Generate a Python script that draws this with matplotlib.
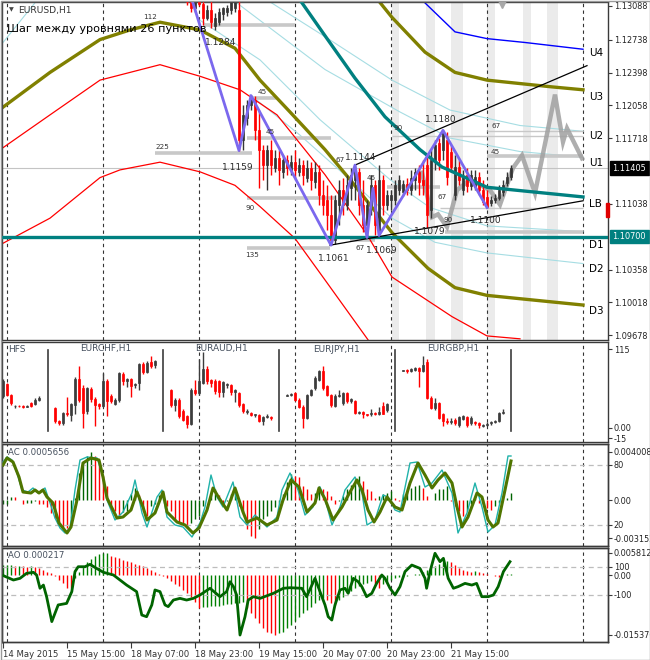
import numpy as np
import matplotlib
matplotlib.use("Agg")
import matplotlib.pyplot as plt
import matplotlib.transforms as mtrans
from matplotlib.patches import Rectangle

plt.rcParams['font.family'] = ['DejaVu Sans']

# ---------------- main EURUSD H1 candles (bar index from first_bar) ----------------
first_bar = 46
opens = [1.1331,1.1313,1.1307,1.1315,1.1311,1.1296,1.1305,1.1288,1.1292,1.1300,1.1303,1.1305,1.1307,1.1305,
         1.1170,1.1193,1.1206,1.1211,1.1180,1.1160,1.1144,1.1160,1.1141,1.1151,1.1137,1.1149,1.1139,1.1147,
         1.1137,1.1144,1.1131,1.1141,1.1126,1.1137,1.1113,1.1108,1.1092,1.1066,1.1103,1.1118,1.1103,1.1120,
         1.1129,1.1137,1.1103,1.1082,1.1103,1.1123,1.1075,1.1129,1.1103,1.1108,1.1108,1.1118,1.1116,1.1124,
         1.1118,1.1129,1.1137,1.1129,1.1144,1.1097,1.1149,1.1167,1.1160,1.1170,1.1158,1.1113,1.1142,1.1118,
         1.1134,1.1122,1.1121,1.1132,1.1118,1.1111,1.1105,1.1108,1.1110,1.1116,1.1125,1.1132]
highs = [1.1341,1.1320,1.1317,1.1323,1.1321,1.1310,1.1317,1.1302,1.1307,1.1308,1.1310,1.1317,1.1320,1.1315,
         1.1206,1.1211,1.1217,1.1216,1.1201,1.1165,1.1165,1.1170,1.1160,1.1160,1.1154,1.1154,1.1154,1.1160,
         1.1151,1.1149,1.1149,1.1147,1.1147,1.1144,1.1129,1.1123,1.1113,1.1113,1.1129,1.1131,1.1134,1.1141,
         1.1144,1.1141,1.1129,1.1108,1.1134,1.1129,1.1144,1.1134,1.1118,1.1118,1.1129,1.1134,1.1129,1.1131,
         1.1139,1.1141,1.1144,1.1149,1.1154,1.1160,1.1170,1.1172,1.1180,1.1178,1.1165,1.1154,1.1149,1.1139,
         1.1141,1.1139,1.1139,1.1137,1.1129,1.1118,1.1112,1.1114,1.1123,1.1129,1.1137,1.1144]
lows = [1.1310,1.1303,1.1303,1.1309,1.1289,1.1294,1.1286,1.1284,1.1289,1.1294,1.1298,1.1300,1.1303,1.1159,
        1.1160,1.1185,1.1201,1.1170,1.1120,1.1129,1.1118,1.1134,1.1137,1.1123,1.1131,1.1134,1.1134,1.1131,
        1.1133,1.1123,1.1126,1.1118,1.1120,1.1103,1.1092,1.1077,1.1061,1.1062,1.1082,1.1092,1.1097,1.1108,
        1.1108,1.1092,1.1075,1.1069,1.1092,1.1072,1.1071,1.1092,1.1097,1.1097,1.1103,1.1113,1.1112,1.1113,
        1.1113,1.1118,1.1113,1.1113,1.1079,1.1089,1.1139,1.1139,1.1149,1.1123,1.1137,1.1108,1.1123,1.1113,
        1.1116,1.1118,1.1118,1.1113,1.1103,1.1100,1.1102,1.1105,1.1108,1.1112,1.1122,1.1129]
closes = [1.1313,1.1307,1.1315,1.1311,1.1296,1.1305,1.1292,1.1296,1.1303,1.1307,1.1307,1.1315,1.1313,1.1170,
          1.1196,1.1206,1.1211,1.1180,1.1160,1.1144,1.1160,1.1144,1.1151,1.1139,1.1149,1.1141,1.1147,1.1139,
          1.1144,1.1134,1.1141,1.1129,1.1137,1.1113,1.1103,1.1092,1.1066,1.1108,1.1118,1.1103,1.1123,1.1134,
          1.1139,1.1103,1.1082,1.1103,1.1123,1.1082,1.1129,1.1103,1.1113,1.1113,1.1123,1.1129,1.1124,1.1118,
          1.1131,1.1137,1.1126,1.1123,1.1092,1.1149,1.1165,1.1149,1.1178,1.1132,1.1142,1.1142,1.1129,1.1132,
          1.1122,1.1134,1.1132,1.1118,1.1106,1.1101,1.1108,1.1110,1.1118,1.1123,1.1132,1.11405]

price_ticks = [1.13088, 1.12738, 1.12398, 1.12058, 1.11718, 1.11038, 1.10358, 1.10018, 1.09678]
bid_price = 1.11405
pivot_price = 1.10700
spread_hi, spread_lo = 1.1105, 1.1090
arrow_bar, arrow_price = 124.75, 1.1311

# zigzag
zz_bars = [46.5, 59, 62, 82, 88, 91, 92.5, 94, 110, 121]
zz_prices = [1.1325, 1.1159, 1.1216, 1.1061, 1.1144, 1.1069, 1.1120, 1.1071, 1.1180, 1.1100]
zz_labels = [(50.5, 1.1271, '1.1284'), (54.75, 1.1142, '1.1159'), (85.5, 1.1152, '1.1144'),
             (78.75, 1.1047, '1.1061'), (90.75, 1.1055, '1.1069'), (102.75, 1.1075, '1.1079'),
             (105.5, 1.1191, '1.1180'), (116.75, 1.1087, '1.1100')]

# gray projection
proj_bars = [104.75, 107.25, 108.75, 111, 113.5, 116.75, 121.75, 124.25, 127.5, 129.75, 133, 138, 140, 141, 144.75]
proj_prices = [1.1136, 1.1090, 1.1093, 1.1080, 1.1118, 1.1129, 1.1118, 1.1103, 1.1141, 1.1154, 1.1115,
               1.1217, 1.1168, 1.1182, 1.1151]

# channel lines
upper_trend = ([88, 146], [1.1144, 1.1247])
lower_trend = ([81.75, 145], [1.1061, 1.1107])

blue_bars = [103.75, 104.75, 113, 121, 130.5, 145]
blue_prices = [1.1323, 1.1315, 1.1282, 1.1275, 1.1271, 1.1264]
olive_up_bars = [91.75, 93.75, 97.25, 105.5, 113, 121, 137.25, 145]
olive_up_prices = [1.1325, 1.1315, 1.1297, 1.1261, 1.1240, 1.1232, 1.1225, 1.1222]
olive_dn_bars = [0, 11.75, 24.25, 31.75, 39.25, 49.25, 58, 64.25, 71.75, 80.5, 86.75, 97.25, 106.25, 113, 121, 145]
olive_dn_prices = [1.1204, 1.1240, 1.1274, 1.1284, 1.1292, 1.1284, 1.1265, 1.1232, 1.1199, 1.1160, 1.1129,
                   1.1074, 1.1037, 1.1017, 1.1009, 1.0999]
teal_bars = [72.5, 74.25, 80.5, 88, 95.5, 104.25, 109.75, 121, 145]
teal_prices = [1.1325, 1.1315, 1.1278, 1.1234, 1.1194, 1.1160, 1.1142, 1.1121, 1.1111]
red_up_bars = [0, 11.75, 24.25, 39.25, 49.25, 59.25, 68.5, 80.5, 91, 97.25, 112.25, 121, 129.25]
red_up_prices = [1.1162, 1.1196, 1.1232, 1.1248, 1.1236, 1.1222, 1.1196, 1.1134, 1.1072, 1.1028, 1.0987,
                 1.0967, 1.0964]
red_dn_bars = [0, 11.75, 24.25, 29.25, 39.25, 49.25, 58, 64.25, 73, 80.5, 91.25, 93]
red_dn_prices = [1.1063, 1.1089, 1.1131, 1.1139, 1.1147, 1.1137, 1.1123, 1.1101, 1.1068, 1.1025, 1.0963, 1.0952]
light_lines = [
    ([66, 80.5, 97.25, 111.75, 129.25, 145], [1.1315, 1.1277, 1.1232, 1.1201, 1.1185, 1.1179]),
    ([57.5, 80.5, 99.25, 111.75, 129.25, 145], [1.1315, 1.1243, 1.1199, 1.1172, 1.1158, 1.1152]),
    ([49.25, 64.25, 79.25, 96.75, 106.75, 121, 145], [1.1294, 1.1253, 1.1191, 1.1129, 1.1100, 1.1081, 1.1075]),
    ([61.75, 74.25, 86.75, 97.25, 108, 121, 145], [1.1217, 1.1175, 1.1129, 1.1089, 1.1064, 1.1053, 1.1042]),
    ([0, 10.5], [1.1271, 1.1325]),
]

fib_segments = [(50, 73, 1.1289, True), (62.5, 68.25, 1.1213, True), (61, 82, 1.1172, True),
                (38, 62.25, 1.1157, True), (61, 83, 1.1110, True), (61, 81.75, 1.1058, True),
                (86.75, 93, 1.1066, True), (96, 109.25, 1.1121, True), (97.25, 145, 1.1174, False),
                (121, 145, 1.1179, False), (121, 145, 1.1153, True), (109.25, 145, 1.1100, False),
                (110.5, 145, 1.1075, True)]
fib_labels = [(35, 1.1297, '112'), (63.75, 1.1220, '45'), (65.75, 1.1178, '45'), (38, 1.1163, '225'),
              (60.75, 1.1100, '90'), (60.5, 1.1051, '135'), (83, 1.1149, '67'), (91, 1.1131, '45'),
              (88, 1.1058, '67'), (97.5, 1.1182, '90'), (108.75, 1.1111, '67'), (110, 1.1087, '90'),
              (122, 1.1184, '67'), (122, 1.1158, '45')]
level_bar = 146.5
level_names = ['U4', 'U3', 'U2', 'U1', 'LB', 'D1', 'D2', 'D3']
level_prices = [1.1260, 1.1215, 1.1174, 1.1146, 1.1104, 1.1061, 1.1036, 1.0993]
bands = [(97.25, 99), (105.75, 108), (112, 115), (121, 123), (130, 132), (136, 138.75)]
grid_bars = [1, 25, 49, 73, 97, 121, 145]

# ---------------- HFS mini charts (O,H,L,C) ----------------
hfs_starts = [0, 13, 42, 71, 100]
hfs_sep = [11.25, 40, 69, 98, 127]
hfs_names = [(1.25, 'HFS'), (19.25, 'EURCHF,H1'), (48, 'EURAUD,H1'), (77.5, 'EURJPY,H1'), (106, 'EURGBP,H1')]
hfs_g1 = [(47,72,44,68),(64,66,46,48),(48,50,33,36),(31.5,34,29,32.5),(32.5,34,30,31.5),(32,33,29,31),
          (31,34,30,32.5),(36,38,30,32),(35,43,34,41),(41,47,40,44)]
hfs_chf = [(29,31,7,10),(10,12,5,7),(7,24,5,22),(22,45,18,20),(19,37,10,35),(33,74,20,71),(71,90,38,41),
           (58,62,0,22),(25,60,20,58),(57,60,38,42),(42,45,3,33),(35,37,28,32),(32,80,30,68),(68,71,17,39),
           (47,50,36,39),(35,43,33,41),(41,82,38,80),(79,81,62,68),(68,73,60,71),(71,73,45,61),(62,66,58,64),
           (65,95,55,93),(93,96,78,82),(82,97,80,95),(96,105,88,90),(92,99,88,97)]
hfs_aud = [(55,57,30,33),(33,43,25,41),(41,43,14,17),(25,27,10,12),(17,19,0,6),(6,58,4,55),(55,70,48,51),
           (51,100,48,68),(66,110,64,86),(86,90,64,68),(70,72,60,66),(68,72,50,54),(68,70,45,53),(53,69,45,67),
           (62,66,58,64),(62,64,48,53),(53,57,38,55),(51,53,30,33),(35,37,22,25),(24,27,21,25),(22,24,17,19),
           (19,21,16,20),(19,21,8,10),(10,18,5,16),(16,20,14,17),(16,18,12,14)]
hfs_jpy = [(47,49,46,48),(48,51,46,49),(51,53,39,41),(41,43,29,31),(31,33,0,15),(15,50,13,48),(48,57,46,55),
           (58,76,56,73),(70,85,68,83),(83,90,56,58),(61,63,46,48),(48,50,31,33),(32,49,30,47),(47,55,45,48),
           (36,53,34,51),(51,53,37,39),(39,44,37,42),(39,41,20,22),(22,25,20,23),(23,25,15,20),(20,21,17,19),
           (20,28,18,22),(22,23,19,21),(20,30,19,24),(32,38,20,21),(26,37,24,35)]
hfs_gbp = [(83.5,85,83,84.5),(84,86,80,83),(83,88,82,86),(84,89,83,87),(87,89,60,83),(83,105,81,92),
           (96,100,42,44),(44,46,27,29),(29,44,26,36),(36,38,13,15),(20,22,3,10),(10,14,6,8),(8,14,6,10),
           (12,15,5,7),(4,18,2,16),(13,19,11,17),(16,18,2,4),(7,17,5,15),(9,10,5,7),(7,8,0,4),(3,6,2,4),
           (4,8,3,6),(7,10,5,8),(8,12,7,10),(10,24,9,22),(22,28,20,24)]
hfs_groups = [hfs_g1, hfs_chf, hfs_aud, hfs_jpy, hfs_gbp]

# ---------------- AC (1e-5 units) + stochastic ----------------
ac_values = [-35,-30,28,22,0,-28,-25,-20,-5,-28,-33,-61,-108,-145,-186,-220,-228,-150,20,230,320,370,401,370,
             300,200,120,-40,-90,-130,-100,-90,50,105,40,-90,-130,-50,-35,40,60,-50,-90,-160,-190,-200,-230,
             -190,-160,-130,-50,0,60,90,40,-20,-5,50,90,-50,-100,-240,-300,-315,-240,-160,-130,-90,-60,-20,50,
             150,220,200,190,120,90,50,60,120,90,75,33,-36,-8,33,89,130,178,200,158,89,75,20,33,47,61,75,20,-8,
             47,75,103,117,130,103,33,5,61,89,94,117,-8,-50,-92,-133,-92,-36,20,-22,-36,-64,-78,-50,-22,5,20,57]
stoch_main = [(0,80),(1,87),(2.5,83),(4,68),(5,53),(7,52),(8,55),(9,52),(10,55),(11,48),(12.5,42),(14,22),
              (16,12),(17,18),(18.5,45),(20,82),(22,87),(24,85),(25,68),(26,47),(28.5,27),(30,28),(32,35),
              (33.5,53),(35,38),(36,25),(38,32),(40,53),(41,33),(43.5,23),(45.5,20),(47.5,12),(49,17),(51,35),
              (52.5,57),(54,47),(56,35),(58,57),(60,33),(61,23),(63.5,27),(66,20),(68.5,25),(70,45),(72,65),
              (74,58),(76,33),(78,42),(79,57),(80.5,46),(82.5,25),(84.75,38),(86.75,53),(88.5,65),(89.75,55),
              (91.25,35),(92.75,23),(94.25,33),(96,48),(98,38),(99.75,35),(101.75,62),(103.75,82),(105.5,70),
              (107.25,57),(108.75,65),(110.5,72),(112.25,62),(113.5,38),(114.75,18),(116.25,28),(118.5,52),
              (119.75,48),(121.25,25),(122.5,18),(123.75,22),(125.5,55),(127,84)]
stoch_signal = [(0,83),(1,88),(2.25,85),(3.5,72),(4.75,55),(6.25,53),(7.5,57),(8.75,52),(10.5,57),(11.75,42),
                (13,27),(14.25,17),(15.5,12),(16.75,17),(18,55),(19.25,85),(21,88),(23.5,87),(24.75,72),(26,45),
                (28,25),(30,33),(32.25,52),(33,65),(34.75,32),(36,18),(38.5,48),(39.75,55),(41,28),(43,20),
                (45,18),(47.25,8),(49.25,22),(50.5,38),(52,70),(53.5,48),(55,38),(57.5,63),(59.25,28),(61,20),
                (63,30),(66,18),(68.5,28),(69.75,55),(71.75,72),(73.75,55),(75.5,30),(77.5,38),(79.25,58),
                (80.5,46),(82.25,20),(84.25,38),(85.5,55),(88,68),(89.75,52),(91,20),(93,25),(95,50),(96.25,48),
                (98,35),(99.25,33),(101.75,82),(103.5,83),(105.5,58),(107.25,62),(109.75,75),(112.25,52),
                (113.75,12),(116,32),(118,62),(119.75,38),(121.25,13),(123,20),(124.75,52),(126.25,89),(127,89)]

# ---------------- AO (1e-5 units) + CCI ----------------
ao_values = [258,258,258,241,241,232,206,224,206,172,129,86,43,-17,-129,-215,-327,-344,-86,69,206,327,413,482,
             530,560,581,499,464,430,396,361,327,292,258,224,172,120,69,17,-34,-86,-155,-224,-292,-378,-464,
             -568,-688,-843,-826,-817,-808,-800,-791,-774,-757,-740,-731,-714,-705,-860,-989,-1118,-1247,-1376,
             -1479,-1510,-1538,-1500,-1462,-1376,-1290,-1187,-1075,-989,-903,-817,-731,-645,-585,-645,-731,
             -774,-645,-559,-473,-413,-344,-292,-241,-198,-155,-241,-327,-241,-172,-120,-86,-60,-43,-17,0,17,
             34,69,120,172,224,275,327,361,327,258,189,138,103,86,103,69,43,17,0,-17,-43,0,17,22]
cci_points = [(0.1,38),(2.6,7),(4.25,19),(5.9,55),(7.6,62),(8.4,43),(9.25,-52),(10.1,-29),(10.9,-112),
              (12.2,-290),(13.8,-171),(15.9,-160),(17.2,-76),(18,67),(18.8,102),(20.5,102),(21.75,119),
              (23.4,90),(25.1,62),(27.6,43),(30.9,-29),(33.4,-76),(34.7,-243),(35.9,-255),(37.2,-171),(38,-64),
              (39.25,-76),(40.5,-171),(41.3,-183),(42.6,-136),(44.25,-124),(45.9,-136),(47.6,-124),
              (49.25,-100),(51.75,-52),(54.25,-112),(55.9,-76),(56.75,-5),(57.6,-40),(58.4,-100),(59.25,-386),
              (60.5,-255),(61.3,-136),(62.6,-112),(64.25,-124),(67.6,-88),(70.1,-52),(71.75,-48),(74.7,-52),
              (75.9,-112),(78,19),(79.25,-76),(80.5,-171),(81.3,-255),(82.2,-279),(83,-171),(84.25,-64),
              (85.5,-52),(86.3,-88),(87.6,19),(88.8,-5),(89.7,-40),(90.9,-112),(92.2,-88),(93.4,-17),
              (94.7,43),(95.5,19),(96.75,-52),(98,-100),(99.25,-40),(100.5,67),(102.2,114),(104.25,90),
              (105.5,19),(105.9,-52),(106.75,67),(108,198),(109.25,138),(110.1,162),(111.3,19),(112.6,-52),
              (113.8,-40),(115.5,-17),(117.2,-29),(118.4,-17),(119.7,-112),(121.3,-112),(122.6,-100),
              (123.8,-40),(125.1,67),(126.75,138)]

date_ticks = [0, 16, 32, 48, 64, 80, 96, 112]
date_labels = ['14 May 2015', '15 May 15:00', '18 May 07:00', '18 May 23:00', '19 May 15:00',
               '20 May 07:00', '20 May 23:00', '21 May 15:00']

# ---------------- figure layout ----------------
W, H = 650, 660
fig = plt.figure(figsize=(6.5, 6.6), dpi=100)
fig.patch.set_facecolor('white')

def rect(top, bottom, left=2, right=608):
    return [left / W, 1 - bottom / H, (right - left) / W, (bottom - top) / H]

ax_main = fig.add_axes(rect(2, 340))
ax_hfs = fig.add_axes(rect(342, 442), sharex=ax_main)
ax_ac = fig.add_axes(rect(444, 546), sharex=ax_main)
ax_ao = fig.add_axes(rect(548, 642), sharex=ax_main)
ax_ac2 = ax_ac.twinx()
ax_ao2 = ax_ao.twinx()

FRAME = '#3a3a3a'
TXT = '#222222'
YFS = 5.9
for ax in (ax_main, ax_hfs, ax_ac, ax_ao, ax_ac2, ax_ao2):
    for s in ax.spines.values():
        s.set_color(FRAME)
        s.set_linewidth(1.0)
    ax.tick_params(axis='y', which='both', left=False, right=True, labelleft=False, labelright=True,
                   labelsize=YFS, length=3, color=FRAME, labelcolor=TXT, pad=1)
    ax.tick_params(axis='x', bottom=False, labelbottom=False)
    ax.set_facecolor('none')

ax_main.set_xlim(-0.25, 151.25)
ax_main.set_ylim(1.096278, 1.131294)

def vgrid(ax):
    for g in grid_bars:
        ax.axvline(g, color='#333333', lw=0.8, ls=(0, (3, 3)), zorder=1)

def candles(ax, xs, o, h, l, c, width, up_col, dn_col, zorder=3):
    xs = np.asarray(xs, float); o = np.asarray(o); h = np.asarray(h); l = np.asarray(l); c = np.asarray(c)
    cols = np.where(c >= o, up_col, dn_col)
    ax.vlines(xs, l, h, colors=cols, lw=1.0, zorder=zorder)
    ax.bar(xs, np.abs(c - o), bottom=np.minimum(o, c), width=width, color=cols, edgecolor=cols,
           linewidth=0.5, zorder=zorder + 0.1)

# ---------------- main panel ----------------
ax = ax_main
for a, b in bands:
    ax.axvspan(a, b, color='#ebebeb', lw=0, zorder=0)
vgrid(ax)
ax.axhline(bid_price, color='#c4c4c4', lw=0.8, zorder=1)
for xs, ys in light_lines:
    ax.plot(xs, ys, color='#a6dde3', lw=0.8, zorder=1.5)
for a, b, p, thick in fib_segments:
    ax.plot([a, b], [p, p], color='#c8c8c8', lw=2.6 if thick else 1.0, solid_capstyle='butt', zorder=1.6)
for x, p, t in fib_labels:
    ax.text(x, p, t, fontsize=5.2, color='#333333', ha='left', va='center', zorder=6)
ax.plot(red_up_bars, red_up_prices, color='#ff0000', lw=0.9, zorder=2)
ax.plot(red_dn_bars, red_dn_prices, color='#ff0000', lw=0.9, zorder=2)
ax.plot(blue_bars, blue_prices, color='#0000ff', lw=1.0, zorder=2)
ax.plot(olive_up_bars, olive_up_prices, color='#808000', lw=2.4, zorder=2)
ax.plot(olive_dn_bars, olive_dn_prices, color='#808000', lw=2.4, zorder=2)
ax.plot(proj_bars, proj_prices, color='#a0a0a0', lw=3.2, alpha=0.85, zorder=2.5, solid_joinstyle='miter')
bars_x = first_bar + np.arange(len(opens))
candles(ax, bars_x, opens, highs, lows, closes, 0.45, '#353535', '#ff0000', zorder=3)
ax.plot(teal_bars, teal_prices, color='#008080', lw=2.4, zorder=4)
ax.axhline(pivot_price, color='#008080', lw=2.4, zorder=4)
ax.plot(*upper_trend, color='black', lw=0.9, zorder=4.5)
ax.plot(*lower_trend, color='black', lw=0.9, zorder=4.5)
ax.plot(zz_bars, zz_prices, color='#7b68ee', lw=2.0, zorder=5)
for x, p, t in zz_labels:
    ax.text(x, p, t, fontsize=6.5, color='#2b2b2b', ha='left', va='center', zorder=6)
for n, p in zip(level_names, level_prices):
    ax.text(level_bar, p, n, fontsize=7.5, color='black', ha='left', va='center', zorder=6)
ax.plot([arrow_bar], [arrow_price], marker='v', ms=6, color='#a8a8a8', zorder=6, clip_on=True)
ax.set_yticks(price_ticks)
ax.set_yticklabels([f'{p:.5f}' for p in price_ticks])
bt = mtrans.blended_transform_factory(ax.transAxes, ax.transData)
ax.text(1.0075, bid_price, f'{bid_price:.5f}', transform=bt, fontsize=YFS, color='white', ha='left',
        va='center', bbox=dict(boxstyle='square,pad=0.3', fc='black', ec='black'), clip_on=False, zorder=7)
ax.text(1.0075, pivot_price, f'{pivot_price:.5f}', transform=bt, fontsize=YFS, color='white', ha='left',
        va='center', bbox=dict(boxstyle='square,pad=0.3', fc='#008080', ec='#008080'), clip_on=False, zorder=7)
ax.add_patch(Rectangle((0.9965, spread_lo), 0.005, spread_hi - spread_lo, transform=bt, color='#e00000',
                       clip_on=False, zorder=7))
ax.text(0.0115, 0.976, '\u25bc', transform=ax.transAxes, fontsize=4.5, color='#444444', ha='left', va='center')
ax.text(0.0265, 0.976, 'EURUSD,H1', transform=ax.transAxes, fontsize=6.6, color='#333333', ha='left', va='center')
ax.text(0.008, 0.921, 'Шаг между уровнями 26 пунктов', transform=ax.transAxes, fontsize=8.1,
        color='black', ha='left', va='center', zorder=8)

# ---------------- HFS panel ----------------
ax = ax_hfs
ax.set_ylim(-20.4, 125.2)
vgrid(ax)
for start, grp in zip(hfs_starts, hfs_groups):
    o, h, l, c = zip(*grp)
    candles(ax, start + np.arange(len(grp)), o, h, l, c, 0.65, '#3c3c3c', '#ff0000', zorder=3)
for s in hfs_sep:
    ax.plot([s, s], [-4, 114], color='#3c3c3c', lw=1.2, zorder=3)
bt = mtrans.blended_transform_factory(ax.transData, ax.transAxes)
for x, t in hfs_names:
    ax.text(x, 0.93, t, transform=bt, fontsize=6.5, color='#46505e', ha='left', va='center', zorder=6)
ax.set_yticks([115, 0, -15])
ax.set_yticklabels(['115', '0.00', '-15'])

# ---------------- AC panel ----------------
ax = ax_ac
ax.set_ylim(-0.003818, 0.004674)
vgrid(ax)
ac = np.array(ac_values) * 1e-5
ac_cols = ['#006400' if i == 0 or ac[i] >= ac[i - 1] else '#ff0000' for i in range(len(ac))]
ax.vlines(np.arange(len(ac)), 0, ac, colors=ac_cols, lw=1.0, zorder=2)
ax.set_yticks([0.004008, 0.0, -0.003152])
ax.set_yticklabels(['0.004008', '0.00', '-0.003152'])
ax.text(0.01, 0.92, 'AC 0.0005656', transform=ax.transAxes, fontsize=6.2, color='#46505e', ha='left',
        va='center', zorder=6)
ax2 = ax_ac2
ax2.set_ylim(-1, 101)
for lv in (80, 20):
    ax2.axhline(lv, color='#bdbdbd', lw=0.9, ls=(0, (4, 3)), zorder=1)
sx, sy = zip(*stoch_signal)
ax2.plot(sx, sy, color='#20b2aa', lw=1.0, zorder=3)
mx, my = zip(*stoch_main)
ax2.plot(mx, my, color='#4f7500', lw=2.2, zorder=4)
ax2.set_yticks([80, 20])
ax2.set_yticklabels(['80', '20'])

# ---------------- AO panel ----------------
ax = ax_ao
ax.set_ylim(-0.017313, 0.006977)
vgrid(ax)
ao = np.array(ao_values) * 1e-5
ao_cols = ['#008000' if i == 0 or ao[i] >= ao[i - 1] else '#ff0000' for i in range(len(ao))]
ax.vlines(np.arange(len(ao)), 0, ao, colors=ao_cols, lw=1.0, zorder=2)
ax.set_yticks([0.005812, 0.0, -0.015376])
ax.set_yticklabels(['0.005812', '0.00', '-0.015376'])
ax.text(0.01, 0.915, 'AO 0.000217', transform=ax.transAxes, fontsize=6.2, color='#46505e', ha='left',
        va='center', zorder=6)
ax2 = ax_ao2
ax2.set_ylim(-435.7, 235.7)
for lv in (100, -100):
    ax2.axhline(lv, color='#bdbdbd', lw=0.9, ls=(0, (4, 3)), zorder=1)
cx, cy = zip(*cci_points)
ax2.plot(cx, cy, color='#006400', lw=2.0, zorder=4)
ax2.set_yticks([100, -100])
ax2.set_yticklabels(['100', '-100'])

ax_ao.tick_params(axis='x', bottom=True, labelbottom=True, length=4, color=FRAME, labelsize=6.1,
                  labelcolor='#333333', pad=2)
ax_ao.set_xticks(date_ticks)
ax_ao.set_xticklabels(date_labels, ha='left')

# outer frame
fig.add_artist(Rectangle((0.5 / W, 0.5 / H), (W - 1) / W, (H - 1) / H, transform=fig.transFigure,
                         fill=False, ec='#9a9a9a', lw=1.0))

fig.savefig('out.png', dpi=100, facecolor='white')
